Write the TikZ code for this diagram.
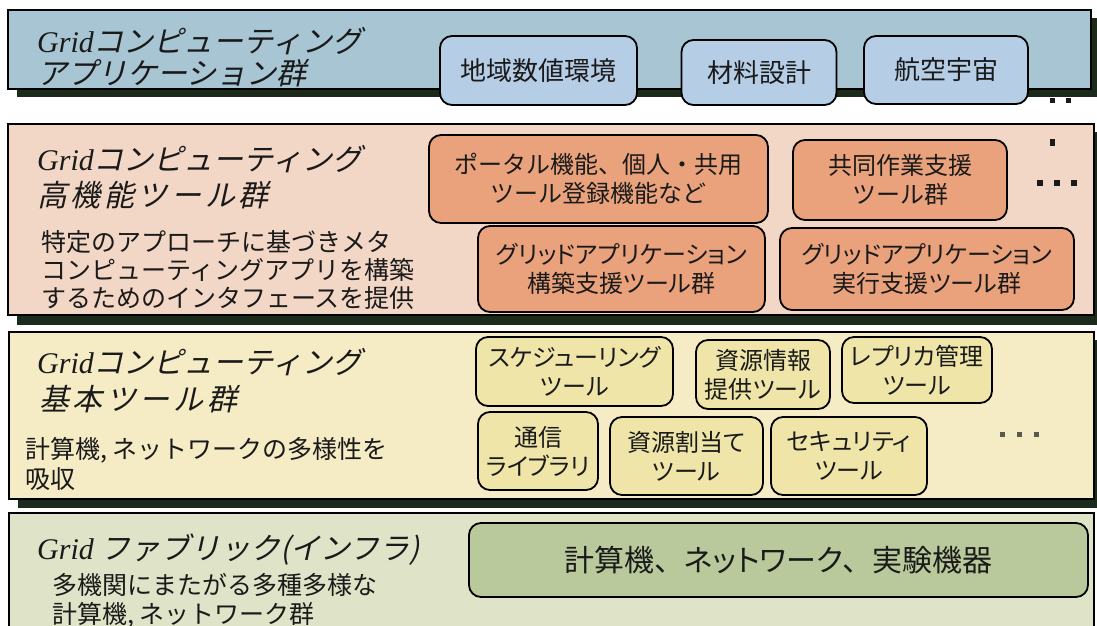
\documentclass[tikz,border=0pt]{standalone}
\usepackage{fontspec}
\setmainfont{Noto Sans CJK JP}
\newfontfamily\jp{Noto Sans CJK JP}
\newfontfamily\jpp{Noto Sans CJK JP}[RawFeature=+palt]
\newfontfamily\jpsl{Noto Sans CJK JP}[FakeSlant=0.22]
\newfontfamily\gridf{Liberation Serif}
\newcommand\Gridword{{\gridf\itshape Grid}}
\definecolor{ink}{HTML}{1A1A1A}
\definecolor{shadowc}{HTML}{1C2A1C}
\definecolor{bgA}{HTML}{A8C5D3}
\definecolor{boxA}{HTML}{B6CDE6}
\definecolor{bgB}{HTML}{F3D7C6}
\definecolor{boxB}{HTML}{E9A27C}
\definecolor{bgC}{HTML}{F5ECC6}
\definecolor{boxC}{HTML}{EFE5A8}
\definecolor{bgD}{HTML}{DFE4C8}
\definecolor{boxD}{HTML}{B9C99C}
\begin{document}
\begin{tikzpicture}[x=1pt,y=-1pt,
  layerbox/.style={draw=black, line width=1.6, anchor=north west, inner sep=0, outer sep=0},
  toolbox/.style={draw=black, line width=1.8, rounded corners=12, align=center, inner sep=0,
    text=ink, font=\jpp\fontsize{24}{29}\selectfont},
  titletext/.style={anchor=west, inner sep=0, text=ink, font=\jpsl\fontsize{30}{30}\selectfont},
  desctext/.style={anchor=west, inner sep=0, text=ink, font=\jp\fontsize{25}{25}\selectfont},
  dotmark/.style={fill=ink}]
\useasboundingbox (0,0) rectangle (1097,626);
\clip (0,0) rectangle (1097,626);
\fill[white] (0,0) rectangle (1097,626);

% ---------- layer 1 ----------
\fill[shadowc] (17,18) rectangle (1100,97);
\node[layerbox, fill=bgA, minimum width=1083, minimum height=79] (L1) at (8,10) {};
\node[titletext] (t1a) at (37,41) {\Gridword コンピューティング};
\node[titletext] (t1b) at (37,73) {アプリケーション群};
\node[toolbox, fill=boxA, minimum width=197, minimum height=69, font=\jpp\fontsize{26}{30}\selectfont] (a1) at (538.5,70.5) {地域数値環境};
\node[toolbox, fill=boxA, minimum width=155, minimum height=65, font=\jpp\fontsize{26}{30}\selectfont] (a2) at (759,72.5) {材料設計};
\node[toolbox, fill=boxA, minimum width=164, minimum height=68, font=\jpp\fontsize{26}{30}\selectfont] (a3) at (946,70) {航空宇宙};
\fill[dotmark] (1050,98) rectangle (1055,103);
\fill[dotmark] (1066,98) rectangle (1071,103);

% ---------- layer 2 ----------
\fill[shadowc] (17,132) rectangle (1103,325);
\node[layerbox, fill=bgB, minimum width=1086, minimum height=191] (L2) at (8,124) {};
\node[titletext] (t2a) at (37,159) {\Gridword コンピューティング};
\node[titletext] (t2b) at (37,195) {\addfontfeature{LetterSpace=12}高機能ツール群};
\node[desctext] (d2a) at (41,242) {特定のアプローチに基づきメタ};
\node[desctext] (d2b) at (41,270) {コンピューティングアプリを構築};
\node[desctext] (d2c) at (41,298) {するためのインタフェースを提供};
\node[toolbox, fill=boxB, minimum width=339, minimum height=88, font=\jp\fontsize{24}{29}\selectfont] (b1) at (598.5,179) {ポータル機能、個人・共用\\ツール登録機能など};
\node[toolbox, fill=boxB, minimum width=214, minimum height=80, font=\jp\fontsize{24}{29}\selectfont] (b2) at (900,180) {共同作業支援\\ツール群};
\node[toolbox, fill=boxB, minimum width=287, minimum height=86] (b3) at (621.5,269) {グリッドアプリケーション\\構築支援ツール群};
\node[toolbox, fill=boxB, minimum width=294, minimum height=82] (b4) at (927,269) {グリッドアプリケーション\\実行支援ツール群};
\fill[dotmark] (1050,139) rectangle (1055,146);
\fill[dotmark] (1037,180) rectangle (1043,186);
\fill[dotmark] (1054,180) rectangle (1060,186);
\fill[dotmark] (1071,180) rectangle (1077,186);

% ---------- layer 3 ----------
\fill[shadowc] (18,340) rectangle (1103,508);
\node[layerbox, fill=bgC, minimum width=1085, minimum height=167] (L3) at (9,332) {};
\node[titletext] (t3a) at (37,362) {\Gridword コンピューティング};
\node[titletext] (t3b) at (39,399) {\addfontfeature{LetterSpace=12}基本ツール群};
\node[desctext] (d3a) at (25,450) {計算機, ネットワークの多様性を};
\node[desctext] (d3b) at (25,479) {吸収};
\node[toolbox, fill=boxC, minimum width=197, minimum height=69] (c1) at (574.5,371.5) {スケジューリング\\ツール};
\node[toolbox, fill=boxC, minimum width=134, minimum height=69] (c2) at (763,374.5) {資源情報\\提供ツール};
\node[toolbox, fill=boxC, minimum width=150, minimum height=66] (c3) at (917,370) {レプリカ管理\\ツール};
\node[toolbox, fill=boxC, minimum width=120, minimum height=78] (c4) at (538,451) {通信\\ライブラリ};
\node[toolbox, fill=boxC, minimum width=153, minimum height=78] (c5) at (686.5,456) {資源割当て\\ツール};
\node[toolbox, fill=boxC, minimum width=156, minimum height=78] (c6) at (849,456) {セキュリティ\\ツール};
\fill[dotmark, opacity=0.7] (1000,432) rectangle (1005,437);
\fill[dotmark, opacity=0.7] (1017,432) rectangle (1022,437);
\fill[dotmark, opacity=0.7] (1034,432) rectangle (1039,437);

% ---------- layer 4 ----------
\node[layerbox, fill=bgD, minimum width=1085, minimum height=130] (L4) at (9,513) {};
\node[titletext] (t4a) at (37,550) {\Gridword\ ファブリック(インフラ)};
\node[desctext] (d4a) at (52,585) {多機関にまたがる多種多様な};
\node[desctext] (d4b) at (52,615) {計算機, ネットワーク群};
\node[toolbox, fill=boxD, minimum width=619, minimum height=74, font=\jp\fontsize{30}{30}\selectfont] (d1) at (778.5,560) {\raisebox{-4pt}{計算機、{\jpp ネットワーク}、実験機器}};
\end{tikzpicture}
\end{document}
